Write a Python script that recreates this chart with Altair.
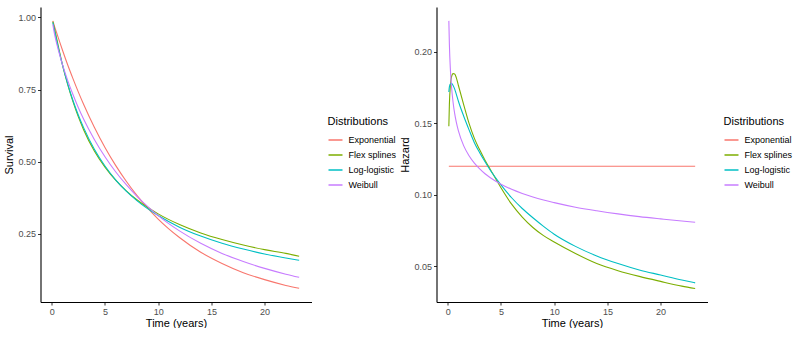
import altair as alt
import pandas as pd

series = ["Exponential", "Flex splines", "Log-logistic", "Weibull"]
colors = ["#F8766D", "#7CAE00", "#00BFC4", "#C77CFF"]

# Survival panel
surv_time = [0.1, 0.25, 0.5, 0.75, 1, 1.5, 2, 2.5, 3, 4, 5, 6, 7, 8, 9, 10,
             12, 14, 16, 18, 20, 22, 23.25]
surv_exp = [0.988, 0.970, 0.942, 0.914, 0.887, 0.835, 0.787, 0.741, 0.698, 0.619,
            0.549, 0.487, 0.432, 0.383, 0.340, 0.301, 0.237, 0.186, 0.147, 0.115,
            0.091, 0.071, 0.061]
surv_flex = [0.985, 0.962, 0.920, 0.877, 0.836, 0.767, 0.707, 0.655, 0.610, 0.537,
             0.481, 0.436, 0.399, 0.368, 0.342, 0.319, 0.282, 0.253, 0.230, 0.211,
             0.195, 0.182, 0.172]
surv_ll = [0.983, 0.956, 0.913, 0.873, 0.836, 0.769, 0.711, 0.661, 0.617, 0.543,
           0.485, 0.437, 0.398, 0.365, 0.337, 0.313, 0.273, 0.242, 0.217, 0.197,
           0.180, 0.166, 0.158]
surv_weib = [0.976, 0.944, 0.904, 0.869, 0.837, 0.781, 0.732, 0.687, 0.647, 0.577,
             0.517, 0.465, 0.420, 0.380, 0.345, 0.313, 0.260, 0.217, 0.182, 0.154,
             0.130, 0.110, 0.099]

# Hazard panel
haz_time = [0.1, 0.15, 0.25, 0.35, 0.5, 0.65, 0.8, 1, 1.5, 2, 2.5, 3, 3.5, 4, 5, 6,
            7, 8, 9, 10, 12, 14, 16, 18, 20, 22, 23.25]
haz_exp = [0.12] * 27
haz_flex = [0.148, 0.163, 0.177, 0.1825, 0.1848, 0.1845, 0.182, 0.1765, 0.163, 0.150,
            0.1395, 0.1315, 0.1243, 0.1178, 0.1050, 0.0935, 0.0845, 0.0772, 0.0715,
            0.0670, 0.0590, 0.0520, 0.0470, 0.0430, 0.0395, 0.0362, 0.0345]
haz_ll = [0.172, 0.1755, 0.1778, 0.178, 0.1765, 0.174, 0.1705, 0.1655, 0.155, 0.1455,
          0.1365, 0.1295, 0.1232, 0.1172, 0.1070, 0.0980, 0.0905, 0.0840, 0.0780,
          0.0725, 0.0640, 0.0573, 0.0520, 0.0475, 0.0440, 0.0405, 0.0385]
haz_weib = [0.2217, 0.2056, 0.187, 0.1758, 0.1646, 0.1568, 0.1509, 0.1448, 0.1343,
            0.1274, 0.1222, 0.1182, 0.1148, 0.1120, 0.1075, 0.1039, 0.1010, 0.0985,
            0.0964, 0.0946, 0.0914, 0.0889, 0.0867, 0.0848, 0.0832, 0.0817, 0.0809]


def long(times, values_list):
    rows = []
    for name, vals in zip(series, values_list):
        for t, v in zip(times, vals):
            rows.append({"time": t, "value": v, "dist": name})
    return pd.DataFrame(rows)


surv_df = long(surv_time, [surv_exp, surv_flex, surv_ll, surv_weib])
haz_df = long(haz_time, [haz_exp, haz_flex, haz_ll, haz_weib])


def panel(df, ytitle, ydomain, yticks):
    return alt.Chart(df).mark_line(strokeWidth=1.1, interpolate="monotone").encode(
        x=alt.X("time:Q", title="Time (years)",
                scale=alt.Scale(domain=[-1.06, 24.41], nice=False, zero=False),
                axis=alt.Axis(values=[0, 5, 10, 15, 20], format="d", titlePadding=1)),
        y=alt.Y("value:Q", title=ytitle,
                scale=alt.Scale(domain=ydomain, nice=False, zero=False),
                axis=alt.Axis(values=yticks, format=".2f")),
        color=alt.Color("dist:N", title="Distributions",
                        scale=alt.Scale(domain=series, range=colors),
                        legend=alt.Legend(orient="none", legendX=287, legendY=109,
                                          symbolType="stroke", symbolSize=196,
                                          symbolStrokeWidth=1.5, labelOffset=5,
                                          rowPadding=2, titlePadding=5)),
    ).properties(width=271, height=295)


left = panel(surv_df, "Survival", [0.0135, 1.036], [0.25, 0.50, 0.75, 1.00])
right = panel(haz_df, "Hazard", [0.0251, 0.2314], [0.05, 0.10, 0.15, 0.20])

chart = alt.hconcat(left, right, spacing=3).resolve_scale(
    color="independent").resolve_legend(color="independent").properties(
    padding={"left": 3.5, "top": 7, "right": 0, "bottom": 0},
    background="white"
).configure_view(stroke=None).configure_axis(
    grid=False, domainColor="#000000", domainWidth=1.1, tickColor="#333333",
    tickSize=3, tickWidth=1, labelColor="#4D4D4D", labelFontSize=9,
    labelFont="Liberation Sans", titleFont="Liberation Sans", titleFontSize=11,
    titleFontWeight="normal", titleColor="#000000", labelPadding=2, titlePadding=3
).configure_legend(
    titleFont="Liberation Sans", labelFont="Liberation Sans", titleFontSize=11,
    titleFontWeight="normal", labelFontSize=9, labelColor="#000000",
    titleColor="#000000"
)

chart.save("out.html", embed_options={"renderer": "svg", "actions": False})
